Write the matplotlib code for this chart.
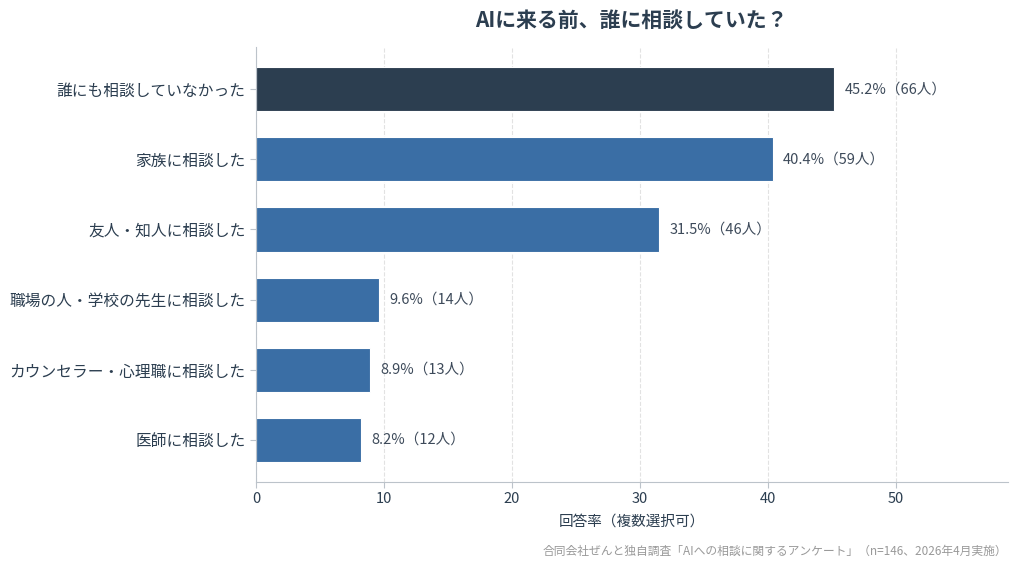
import numpy as np
import matplotlib
matplotlib.use("Agg")
import matplotlib.pyplot as plt

plt.rcParams['font.family'] = ['Noto Sans CJK JP', 'DejaVu Sans']

# data
categories = [
    "誰にも相談していなかった",
    "家族に相談した",
    "友人・知人に相談した",
    "職場の人・学校の先生に相談した",
    "カウンセラー・心理職に相談した",
    "医師に相談した",
]
rates = [45.2, 40.4, 31.5, 9.6, 8.9, 8.2]
counts = [66, 59, 46, 14, 13, 12]

TEXT = "#2c3e50"
DARK = "#2c3e50"
BLUE = "#3a6ea5"
SPINE = "#bcc3ca"

fig = plt.figure(figsize=(10.24, 5.69), dpi=100)
ax = fig.add_axes([0.25, 0.153, 0.734, 0.764])

y = np.arange(len(categories))
colors = [DARK] + [BLUE] * (len(categories) - 1)
ax.barh(y, rates, height=0.63, color=colors, edgecolor="white", linewidth=0.8,
        zorder=2)
ax.invert_yaxis()

for yi, r, c in zip(y, rates, counts):
    ax.text(r + 0.8, yi, f"{r}%（{c}人）", va="center", ha="left",
            fontsize=10.5, color="#3d4a5a")

ax.set_yticks(y)
ax.set_yticklabels(categories, fontsize=11.3, color=TEXT)
ax.set_xlim(0, max(rates) * 1.3)
ax.set_xticks([0, 10, 20, 30, 40, 50])
ax.tick_params(axis="x", labelsize=10.5, labelcolor=TEXT, color=SPINE, length=4)
ax.tick_params(axis="y", length=4, color=SPINE)
ax.set_xlabel("回答率（複数選択可）", fontsize=10.5, color=TEXT, labelpad=6)

ax.grid(axis="x", linestyle="--", color="#e2e2e2", linewidth=0.8, zorder=0)
ax.set_axisbelow(True)
for s in ["top", "right"]:
    ax.spines[s].set_visible(False)
for s in ["left", "bottom"]:
    ax.spines[s].set_color(SPINE)

ax.set_title("AIに来る前、誰に相談していた？", fontsize=15, fontweight="bold",
             color=TEXT, pad=14)

fig.text(0.984, 0.02, "合同会社ぜんと独自調査「AIへの相談に関するアンケート」（n=146、2026年4月実施）",
         ha="right", va="bottom", fontsize=8.5, color="#999999")

fig.savefig("out.png", dpi=100)
